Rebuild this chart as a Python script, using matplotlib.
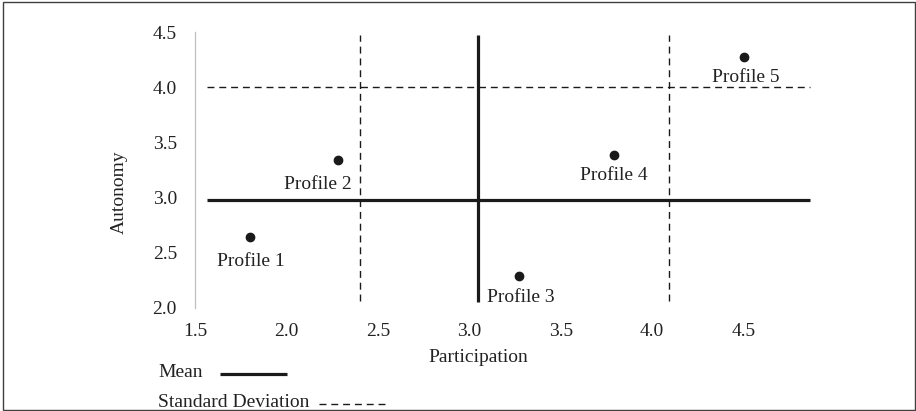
import matplotlib
matplotlib.use("Agg")
import matplotlib.pyplot as plt
from matplotlib.lines import Line2D
from matplotlib.patches import Rectangle

plt.rcParams['font.family'] = ['Liberation Serif', 'DejaVu Serif']

# ---- data ----
profiles = ["Profile 1", "Profile 2", "Profile 3", "Profile 4", "Profile 5"]
participation = [1.80, 2.28, 3.27, 3.79, 4.50]
autonomy = [2.64, 3.34, 2.29, 3.39, 4.27]
mean_participation = 3.05
mean_autonomy = 2.98
sd_participation = [2.40, 4.09]
sd_autonomy = [4.00]
x_ticks = [1.5, 2.0, 2.5, 3.0, 3.5, 4.0, 4.5]
y_ticks = [2.0, 2.5, 3.0, 3.5, 4.0, 4.5]
h_extent = [1.566, 4.86]   # horizontal reference lines span (x)
v_extent = [2.05, 4.47]    # vertical reference lines span (y)

W, H = 916, 411
fig = plt.figure(figsize=(W / 100, H / 100), dpi=100)
ax = fig.add_axes([195 / W, 103 / H, 631 / W, 276 / H])
ax.set_xlim(1.5, 4.95)
ax.set_ylim(2.0, 4.5)

TXT = '#222222'
LINE = '#1a1a1a'
FS = 14

# mean lines
ax.plot(h_extent, [mean_autonomy, mean_autonomy], color=LINE, lw=2.3, solid_capstyle='butt', zorder=2)
ax.plot([mean_participation, mean_participation], v_extent, color=LINE, lw=2.3, solid_capstyle='butt', zorder=2)
# sd lines
for xv in sd_participation:
    ax.plot([xv, xv], [2.06, 4.47], color=LINE, lw=1.0, dashes=(5, 3.5), zorder=2)
for yv in sd_autonomy:
    ax.plot(h_extent, [yv, yv], color=LINE, lw=1.0, dashes=(5, 3.5), zorder=2)

# points
ax.plot(participation, autonomy, 'o', color=LINE, ms=6, zorder=3)
label_offsets = [(1, -29), (-20, -29), (2, -26), (0, -25), (2, -25)]
for name, x, y, off in zip(profiles, participation, autonomy, label_offsets):
    ax.annotate(name, (x, y), xytext=off, textcoords='offset pixels',
                ha='center', va='baseline', fontsize=FS, color=TXT)

# axes styling
for s in ['top', 'right', 'bottom']:
    ax.spines[s].set_visible(False)
ax.spines['left'].set_color('#bfbfbf')
ax.spines['left'].set_linewidth(0.9)
ax.set_xticks(x_ticks)
ax.set_yticks(y_ticks)
ax.set_xticklabels([f"{v:.1f}" for v in x_ticks])
ax.set_yticklabels([f"{v:.1f}" for v in y_ticks])
ax.tick_params(axis='both', length=0, labelsize=FS, labelcolor=TXT)
ax.tick_params(axis='y', pad=13)
ax.tick_params(axis='x', pad=11)

# axis titles
fig.text(478 / W, 1 - 362 / H, "Participation", ha='center', va='baseline', fontsize=FS, color=TXT)
fig.text(119 / W, 1 - 192 / H, "Autonomy", ha='center', va='center', rotation=90, fontsize=FS, color=TXT)

# legend
fig.text(158 / W, 1 - 377 / H, "Mean", ha='left', va='baseline', fontsize=FS, color=TXT)
fig.add_artist(Line2D([220 / W, 287 / W], [1 - 374 / H, 1 - 374 / H], color=LINE, lw=2.3,
                      solid_capstyle='butt', transform=fig.transFigure))
fig.text(158 / W, 1 - 407 / H, "Standard Deviation", ha='left', va='baseline', fontsize=FS, color=TXT)
fig.add_artist(Line2D([319 / W, 385 / W], [1 - 404 / H, 1 - 404 / H], color=LINE, lw=1.0,
                      dashes=(5, 3.5), transform=fig.transFigure))

# border
fig.add_artist(Rectangle((3 / W, 1 / H), 912 / W, 408 / H, transform=fig.transFigure,
                         fill=False, edgecolor='#404040', lw=1.0))

fig.savefig("out.png", dpi=100)
